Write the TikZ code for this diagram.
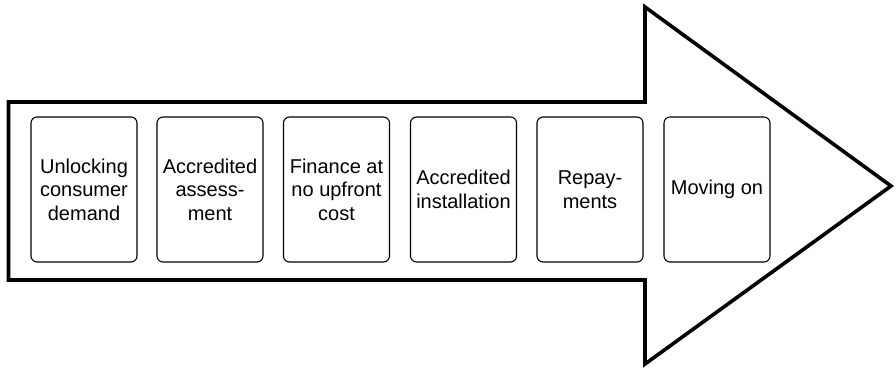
\documentclass[tikz,border=0pt]{standalone}
\usepackage{fontspec}
\setmainfont{Liberation Sans}
\begin{document}
\begin{tikzpicture}[x=1pt,y=-1pt,
  stepbox/.style={draw=black, line width=1.1pt, rounded corners=6pt,
    minimum width=106pt, minimum height=145pt, inner sep=0pt,
    align=center, font=\fontsize{20}{23.5}\selectfont},
  arrowline/.style={draw=black, line width=3.6pt, line join=miter}]
\useasboundingbox (0,0) rectangle (896,370);
\coordinate (s1) at (8.5,102);
\coordinate (s2) at (645,102);
\coordinate (h1) at (645,7);
\coordinate (tip) at (891,186);
\coordinate (h2) at (645,364);
\coordinate (s3) at (645,280);
\coordinate (s4) at (8.5,280);
\draw[arrowline] (s1) -- (s2) -- (h1) -- (tip) -- (h2) -- (s3) -- (s4) -- cycle;
\node[stepbox] (b1) at (84,189.5) {Unlocking\\consumer\\demand};
\node[stepbox] (b2) at (210,189.5) {Accredited\\assess-\\ment};
\node[stepbox] (b3) at (336.5,189.5) {Finance at\\no upfront\\cost};
\node[stepbox] (b4) at (463.5,189.5) {Accredited\\installation};
\node[stepbox] (b5) at (590,189.5) {Repay-\\ments};
\node[stepbox] (b6) at (717,189.5) {Moving on};
\end{tikzpicture}
\end{document}
